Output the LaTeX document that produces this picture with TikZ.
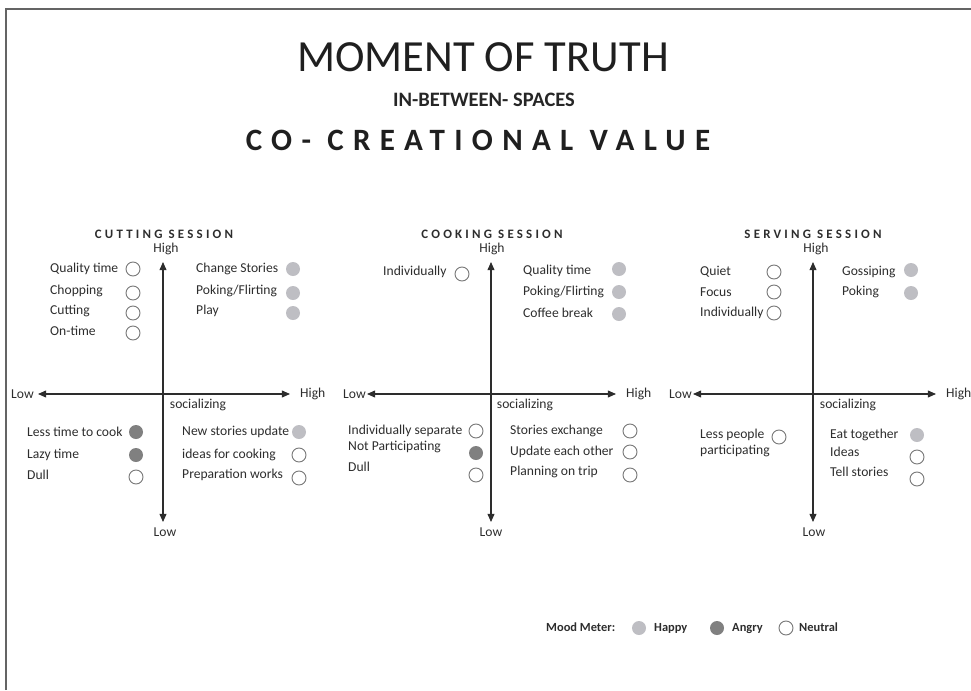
\documentclass[tikz,border=0pt]{standalone}
\usepackage{fontspec}
\setmainfont{Carlito}
\usetikzlibrary{arrows.meta}
\definecolor{inkgray}{RGB}{45,45,45}
\definecolor{happygray}{RGB}{190,190,195}
\definecolor{angrygray}{RGB}{128,128,128}
\definecolor{rimgray}{RGB}{120,120,120}
\definecolor{framegray}{RGB}{100,100,100}

\tikzset{
  item/.style={anchor=west,inner sep=0pt,font=\fontsize{11.6}{13.5}\selectfont,text=inkgray},
  axislbl/.style={inner sep=0pt,font=\fontsize{11.6}{13.5}\selectfont,text=inkgray},
  session/.style={inner sep=0pt,text=inkgray,font=\fontsize{11}{13}\selectfont\bfseries\addfontfeature{LetterSpace=25}},
  mood/.style={circle,inner sep=0pt,minimum size=0.42cm},
  happy/.style={mood,fill=happygray},
  angry/.style={mood,fill=angrygray},
  neutral/.style={mood,draw=rimgray,line width=0.8pt,fill=white},
  axis/.style={{Triangle[length=7pt,width=6pt]}-{Triangle[length=7pt,width=6pt]},line width=0.9pt,draw=inkgray},
  legend/.style={anchor=west,inner sep=0pt,text height=1.6ex,text depth=0.4ex,text=inkgray,font=\fontsize{10.6}{12}\selectfont\bfseries},
}

\begin{document}
\begin{tikzpicture}[x=0.03cm,y=-0.03cm]
\useasboundingbox (0,0) rectangle (971,690);

% frame
\draw[framegray,line width=1.2pt] (6,690) -- (6,9) -- (971,9);

% titles
\node[inner sep=0pt,text=black!88,font=\fontsize{38}{40}\selectfont] (title) at (483,57) {MOMENT OF TRUTH};
\node[inner sep=0pt,text=black!85,font=\fontsize{17.5}{20}\selectfont\bfseries] (sub) at (484,100) {IN-BETWEEN- SPACES};
\node[inner sep=0pt,text=black!88,font=\fontsize{26.5}{30}\selectfont\bfseries\addfontfeature{LetterSpace=30}] (value) at (478,140) {CO- CREATIONAL VALUE};

% ---------- cutting session ----------
\node[session] (cut) at (164,234) {CUTTING SESSION};
\coordinate (cut-n) at (163,262);
\coordinate (cut-s) at (163,522);
\coordinate (cut-w) at (38,394);
\coordinate (cut-e) at (290,394);
\draw[axis] (cut-s) -- (cut-n);
\draw[axis] (cut-w) -- (cut-e);
\node[axislbl] (cut-high) at (166,249) {High};
\node[axislbl] (cut-low) at (165,532) {Low};
\node[axislbl,anchor=east] (cut-lowx) at (34,394) {Low};
\node[axislbl,anchor=west] (cut-highx) at (300,394) {High};
\node[axislbl] (cut-soc) at (198,405) {socializing};

\node[item] (cut-a1) at (50,269) {Quality time};
\node[item] (cut-a2) at (50,291) {Chopping};
\node[item] (cut-a3) at (50,311) {Cutting};
\node[item] (cut-a4) at (50,331) {On-time};
\node[neutral] (cut-m1) at (133,269) {};
\node[neutral] (cut-m2) at (133,293) {};
\node[neutral] (cut-m3) at (133,313) {};
\node[neutral] (cut-m4) at (133,333) {};

\node[item] (cut-b1) at (196,269) {Change Stories};
\node[item] (cut-b2) at (196,291) {Poking/Flirting};
\node[item] (cut-b3) at (196,311) {Play};
\node[happy] (cut-n1) at (293,269) {};
\node[happy] (cut-n2) at (293,293) {};
\node[happy] (cut-n3) at (293,313) {};

\node[item] (cut-c1) at (27,432) {Less time to cook};
\node[item] (cut-c2) at (27,455) {Lazy time};
\node[item] (cut-c3) at (27,475) {Dull};
\node[angry] (cut-o1) at (136,432) {};
\node[angry] (cut-o2) at (136,455) {};
\node[neutral] (cut-o3) at (136,477) {};

\node[item] (cut-d1) at (182,432) {New stories update};
\node[item] (cut-d2) at (182,455) {ideas for cooking};
\node[item] (cut-d3) at (182,475) {Preparation works};
\node[happy] (cut-p1) at (299,432) {};
\node[neutral] (cut-p2) at (299,455) {};
\node[neutral] (cut-p3) at (299,478) {};

% ---------- cooking session ----------
\node[session] (cook) at (492,234) {COOKING SESSION};
\coordinate (cook-n) at (491,262);
\coordinate (cook-s) at (491,522);
\coordinate (cook-w) at (367,394);
\coordinate (cook-e) at (616,394);
\draw[axis] (cook-s) -- (cook-n);
\draw[axis] (cook-w) -- (cook-e);
\node[axislbl] (cook-high) at (492,249) {High};
\node[axislbl] (cook-low) at (491,532) {Low};
\node[axislbl,anchor=east] (cook-lowx) at (366,394) {Low};
\node[axislbl,anchor=west] (cook-highx) at (626,394) {High};
\node[axislbl] (cook-soc) at (525,405) {socializing};

\node[item] (cook-a1) at (383,272) {Individually};
\node[neutral] (cook-m1) at (462,274) {};

\node[item] (cook-b1) at (523,271) {Quality time};
\node[item] (cook-b2) at (523,292) {Poking/Flirting};
\node[item] (cook-b3) at (523,313) {Coffee break};
\node[happy] (cook-n1) at (619,269) {};
\node[happy] (cook-n2) at (619,292) {};
\node[happy] (cook-n3) at (619,314) {};

\node[item] (cook-c1) at (348,431) {Individually separate};
\node[item] (cook-c2) at (348,447) {Not Participating};
\node[item] (cook-c3) at (348,467) {Dull};
\node[neutral] (cook-o1) at (476,431) {};
\node[angry] (cook-o2) at (476,453) {};
\node[neutral] (cook-o3) at (476,475) {};

\node[item] (cook-d1) at (510,431) {Stories exchange};
\node[item] (cook-d2) at (510,452) {Update each other};
\node[item] (cook-d3) at (510,472) {Planning on trip};
\node[neutral] (cook-p1) at (630,431) {};
\node[neutral] (cook-p2) at (630,452) {};
\node[neutral] (cook-p3) at (630,475) {};

% ---------- serving session ----------
\node[session] (serve) at (813,234) {SERVING SESSION};
\coordinate (serve-n) at (813,262);
\coordinate (serve-s) at (813,522);
\coordinate (serve-w) at (693,394);
\coordinate (serve-e) at (936,394);
\draw[axis] (serve-s) -- (serve-n);
\draw[axis] (serve-w) -- (serve-e);
\node[axislbl] (serve-high) at (816,249) {High};
\node[axislbl] (serve-low) at (814,532) {Low};
\node[axislbl,anchor=east] (serve-lowx) at (692,394) {Low};
\node[axislbl,anchor=west] (serve-highx) at (946,394) {High};
\node[axislbl] (serve-soc) at (848,405) {socializing};

\node[item] (serve-a1) at (700,272) {Quiet};
\node[item] (serve-a2) at (700,292) {Focus};
\node[item] (serve-a3) at (700,313) {Individually};
\node[neutral] (serve-m1) at (774,272) {};
\node[neutral] (serve-m2) at (774,292) {};
\node[neutral] (serve-m3) at (774,313) {};

\node[item] (serve-b1) at (842,272) {Gossiping};
\node[item] (serve-b2) at (842,292) {Poking};
\node[happy] (serve-n1) at (911,270) {};
\node[happy] (serve-n2) at (911,293) {};

\node[item,align=left] (serve-c1) at (700,443) {Less people\\participating};
\node[neutral] (serve-o1) at (779,437) {};

\node[item] (serve-d1) at (830,435) {Eat together};
\node[item] (serve-d2) at (830,452) {Ideas};
\node[item] (serve-d3) at (830,472) {Tell stories};
\node[happy] (serve-p1) at (917,435) {};
\node[neutral] (serve-p2) at (917,457) {};
\node[neutral] (serve-p3) at (917,479) {};

% mood meter
\node[legend] (meter) at (546,628) {Mood Meter:};
\node[happy] (meter-h) at (639,628) {};
\node[legend] (meter-hl) at (654,628) {Happy};
\node[angry] (meter-a) at (717,628) {};
\node[legend] (meter-al) at (732,628) {Angry};
\node[neutral] (meter-n) at (786,628) {};
\node[legend] (meter-nl) at (799,628) {Neutral};

\end{tikzpicture}
\end{document}
